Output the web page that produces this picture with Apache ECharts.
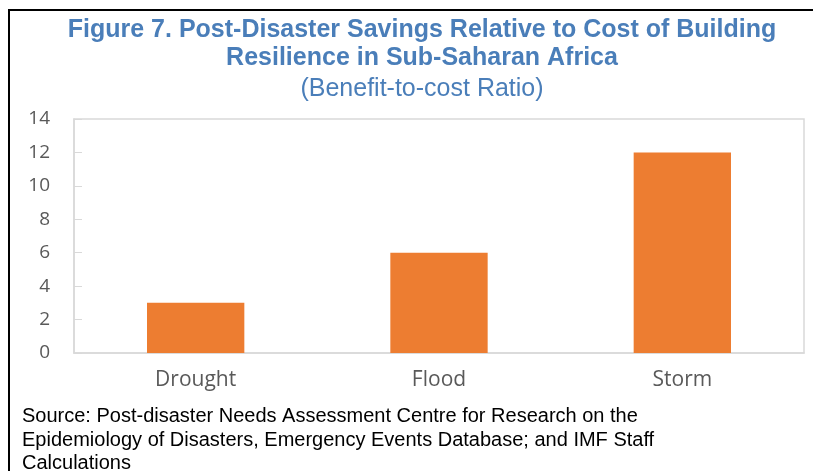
<!DOCTYPE html>
<html>
<head>
<meta charset="utf-8">
<script src="https://cdn.jsdelivr.net/npm/echarts@6/dist/echarts.min.js"></script>
<style>
  html, body { margin: 0; padding: 0; background: #fff; }
  #chart { width: 813px; height: 471px; }
</style>
</head>
<body>
<div id="chart"></div>
<script>
// data
const categories = ['Drought', 'Flood', 'Storm'];
const ratios = [3, 6, 12];
const yTicks = { min: 0, max: 14, interval: 2 };

const titleLines = [
    'Figure 7. Post-Disaster Savings Relative to Cost of Building',
    'Resilience in Sub-Saharan Africa'
];
const subtitle = '(Benefit-to-cost Ratio)';
const sourceLines = [
    'Source: Post-disaster Needs Assessment Centre for Research on the',
    'Epidemiology of Disasters, Emergency Events Database; and IMF Staff',
    'Calculations'
];

const blue = '#4A7EB9';
const axisGray = '#595959';

const chart = echarts.init(document.getElementById('chart'));

const option = {
    animation: false,
    backgroundColor: '#fff',
    title: [
        {
            text: titleLines.join('\n'),
            left: 417, top: 11, textAlign: 'center',
            textStyle: {
                color: blue, fontFamily: 'Liberation Sans', fontWeight: 'bold',
                fontSize: 25, lineHeight: 28
            }
        },
        {
            text: subtitle,
            left: 417, top: 72, textAlign: 'center',
            textStyle: {
                color: blue, fontFamily: 'Liberation Sans', fontWeight: 'normal',
                fontSize: 25
            }
        }
    ],
    grid: { left: 74, right: 9, top: 119, bottom: 118, show: true, borderColor: '#d9d9d9', borderWidth: 1.5 },
    xAxis: {
        type: 'category',
        data: categories,
        axisLine: { lineStyle: { color: '#d9d9d9', width: 1.5 } },
        axisTick: { show: false },
        axisLabel: { color: axisGray, fontFamily: 'Open Sans', fontSize: 21, margin: 17 }
    },
    yAxis: {
        type: 'value',
        min: yTicks.min, max: yTicks.max, interval: yTicks.interval,
        axisLine: { show: true, lineStyle: { color: '#d9d9d9', width: 1.5 } },
        axisTick: { show: true, inside: true, length: 8, lineStyle: { color: '#d9d9d9' } },
        splitLine: { show: false },
        axisLabel: { color: axisGray, fontFamily: 'Open Sans', fontSize: 19, margin: 24 }
    },
    series: [{
        type: 'bar',
        data: ratios,
        barWidth: '40%',
        itemStyle: { color: '#ED7D31' }
    }],
    graphic: [
        { type: 'line', shape: { x1: 8, y1: 10, x2: 813, y2: 10 }, style: { stroke: '#000', lineWidth: 2 } },
        { type: 'line', shape: { x1: 9, y1: 10, x2: 9, y2: 471 }, style: { stroke: '#000', lineWidth: 2 } },
        {
            type: 'text', left: 22, top: 405,
            style: {
                text: sourceLines.join('\n'), fill: '#000',
                fontFamily: 'Liberation Sans', fontSize: 20, lineHeight: 23.5
            }
        }
    ]
};

chart.setOption(option);
</script>
</body>
</html>
